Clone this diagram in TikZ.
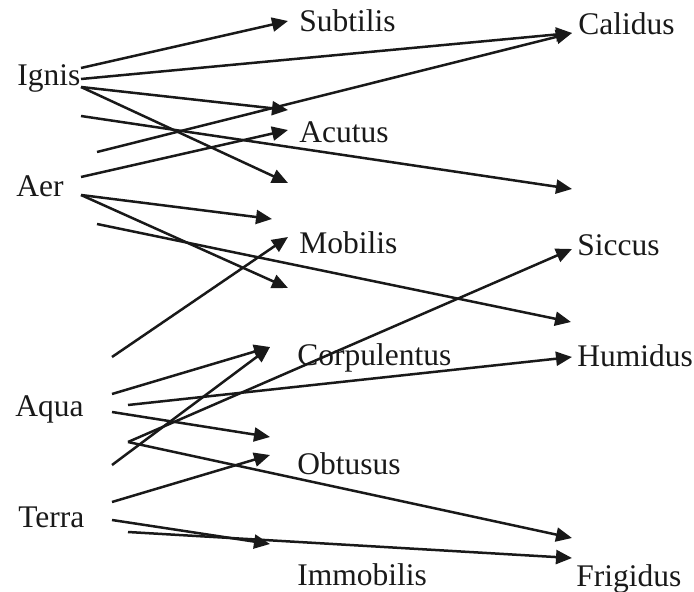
\documentclass[tikz,border=0pt]{standalone}
\usepackage{fontspec}
\setmainfont{Liberation Serif}
\usetikzlibrary{arrows.meta}
\begin{document}
\begin{tikzpicture}[x=0.5pt,y=-0.5pt,
  lbl/.style={anchor=base west,inner sep=0pt,font=\fontsize{15.75pt}{18pt}\selectfont,text=black!90},
  arr/.style={line width=1.25pt,draw=black!90,-{Triangle[length=8pt,width=7pt]}}]
\useasboundingbox (0,0) rectangle (694,592);
% labels
\node[lbl] (ignis) at (17,86) {Ignis};
\node[lbl] (aer) at (16,197) {Aer};
\node[lbl] (aqua) at (15,416) {Aqua};
\node[lbl] (terra) at (18,527) {Terra};
\node[lbl] (subtilis) at (299,32) {Subtilis};
\node[lbl] (acutus) at (299,143) {Acutus};
\node[lbl] (mobilis) at (299,254) {Mobilis};
\node[lbl] (corpulentus) at (297,365) {Corpulentus};
\node[lbl] (obtusus) at (297,474) {Obtusus};
\node[lbl] (immobilis) at (297,585) {Immobilis};
\node[lbl] (calidus) at (578,35) {Calidus};
\node[lbl] (siccus) at (577,256) {Siccus};
\node[lbl] (humidus) at (577,366) {Humidus};
\node[lbl] (frigidus) at (576,586) {Frigidus};
% start points
\coordinate (s1) at (81,68);
\coordinate (s2) at (81,79);
\coordinate (s3) at (81,87);
\coordinate (s5) at (81,116);
\coordinate (s6) at (97,152);
\coordinate (s7) at (81,177);
\coordinate (s8) at (81,195);
\coordinate (s10) at (97,224);
\coordinate (s11) at (112,357);
\coordinate (s12) at (112,394);
\coordinate (s13) at (128,405);
\coordinate (s14) at (112,412);
\coordinate (s15) at (128,442);
\coordinate (s16) at (112,465);
\coordinate (s17) at (112,502);
\coordinate (s18) at (112,520);
\coordinate (s19) at (128,532);
% tips
\coordinate (tSub) at (288,21);
\coordinate (tCal) at (572,33);
\coordinate (tA1) at (288,110);
\coordinate (tA2) at (288,130);
\coordinate (tA3) at (288,183);
\coordinate (tR1) at (572,189);
\coordinate (tM1) at (272,219);
\coordinate (tMob) at (288,237);
\coordinate (tM2) at (288,288);
\coordinate (tSic) at (572,249);
\coordinate (tR2) at (571,322);
\coordinate (tCor) at (270,347);
\coordinate (tHum) at (572,357);
\coordinate (tO1) at (270,437);
\coordinate (tObt) at (270,455);
\coordinate (tImm) at (270,544);
\coordinate (tF1) at (572,538);
\coordinate (tF2) at (572,558);
% connectors
\draw[arr] (s1) -- (tSub);
\draw[arr] (s2) -- (tCal);
\draw[arr] (s3) -- (tA1);
\draw[arr] (s3) -- (tA3);
\draw[arr] (s5) -- (tR1);
\draw[arr] (s6) -- (tCal);
\draw[arr] (s7) -- (tA2);
\draw[arr] (s8) -- (tM1);
\draw[arr] (s8) -- (tM2);
\draw[arr] (s10) -- (tR2);
\draw[arr] (s11) -- (tMob);
\draw[arr] (s12) -- (tCor);
\draw[arr] (s13) -- (tHum);
\draw[arr] (s14) -- (tO1);
\draw[arr] (s15) -- (tSic);
\draw[arr] (s15) -- (tF1);
\draw[arr] (s16) -- (tCor);
\draw[arr] (s17) -- (tObt);
\draw[arr] (s18) -- (tImm);
\draw[arr] (s19) -- (tF2);
\end{tikzpicture}
\end{document}
